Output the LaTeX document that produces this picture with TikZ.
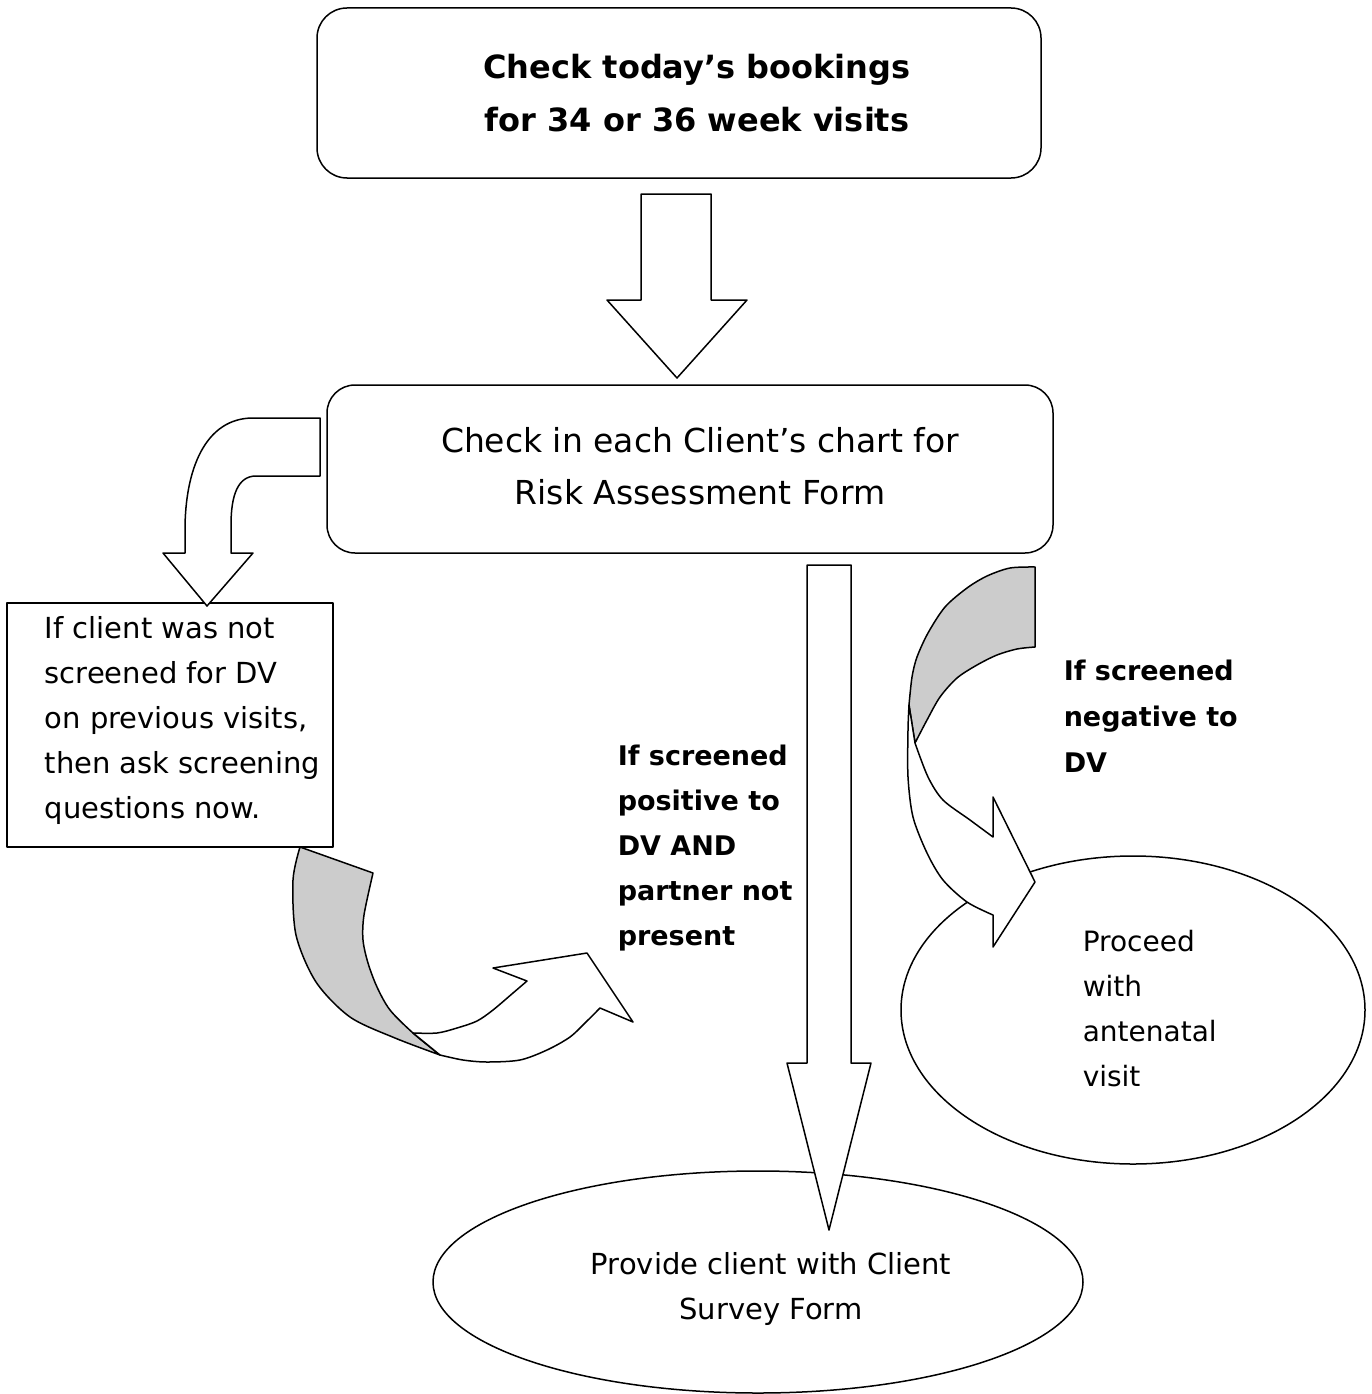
\documentclass[tikz,border=0pt]{standalone}
\usepackage{fontspec}
\setmainfont{DejaVu Sans}
\usetikzlibrary{shapes.geometric}
\begin{document}
\begin{tikzpicture}[x=1pt,y=-1pt,line width=1.5pt,line join=round,
  rbox/.style={draw,inner sep=0pt},
  blockarrow/.style={draw,fill=white},
  ribbon/.style={draw,fill=black!20},
  txt/.style={inner sep=0pt},
  oval/.style={draw,ellipse,inner sep=0pt}]
\useasboundingbox (0,0) rectangle (1372,1394);

% top box
\node[rbox,rounded corners=30pt,minimum width=724pt,minimum height=170pt] (top) at (679,93) {};
\node[txt,align=center,font=\fontsize{32}{53}\selectfont\bfseries] (toptext) at (697,93)
  {Check today’s bookings\\for 34 or 36 week visits};

% down arrow 1
\draw[blockarrow] (641,194) -- (711,194) -- (711,300) -- (747,300) -- (677,378) -- (607,300) -- (641,300) -- cycle;

% second box
\node[rbox,rounded corners=28pt,minimum width=726pt,minimum height=168pt] (check) at (690,469) {};
\node[txt,align=center,font=\fontsize{33}{52}\selectfont] (checktext) at (700,466)
  {Check in each Client’s chart for\\Risk Assessment Form};

% left box
\node[rbox,minimum width=326pt,minimum height=244pt] (leftbox) at (170,725) {};
\node[txt,anchor=west,align=left,font=\fontsize{29}{45}\selectfont] (lefttext) at (44,720)
  {If client was not\\screened for DV\\on previous visits,\\then ask screening\\questions now.};

% left curved arrow
\draw[blockarrow] (320,418) -- (253,418) .. controls (205,418) and (185,470) .. (185,530)
  -- (185,553) -- (163,553) -- (207,606) -- (253,553) -- (231,553) -- (231,525)
  .. controls (231,495) and (238,476) .. (256,476) -- (320,476) -- cycle;

% bottom-left ribbon arrow
\draw[ribbon] plot[smooth,tension=0.5] coordinates {(300,847) (293,880) (296,935) (316,982) (350,1017) (395,1038) (440,1055)}
  -- plot[smooth,tension=0.5] coordinates {(440,1055) (413,1033) (390,1010) (377,987) (368,963) (363,940) (364,915) (373,873)}
  -- cycle;
\draw[blockarrow] plot[smooth,tension=0.5] coordinates {(413,1033) (437,1033) (457,1028) (477,1021) (493,1010) (513,993) (527,981)}
  -- (493,968) -- (587,953) -- (633,1022) -- (600,1008)
  -- plot[smooth,tension=0.5] coordinates {(600,1008) (587,1021) (570,1037) (547,1050) (520,1060) (487,1062) (463,1060) (440,1055)}
  -- cycle;

% middle text
\node[txt,anchor=west,align=left,font=\fontsize{27}{45}\selectfont\bfseries] (postext) at (617,848)
  {If screened\\positive to\\DV AND\\partner not\\present};

% bottom ellipse + middle arrow
\node[oval,minimum width=650pt,minimum height=222pt] (survey) at (758,1282) {};
\node[txt,align=center,font=\fontsize{29}{45}\selectfont] (surveytext) at (771,1289)
  {Provide client with Client\\Survey Form};
\draw[blockarrow] (807,565) -- (851,565) -- (851,1063) -- (871,1063) -- (829,1230) -- (787,1063) -- (807,1063) -- cycle;

% right text
\node[txt,anchor=west,align=left,font=\fontsize{27}{46}\selectfont\bfseries] (negtext) at (1063,716)
  {If screened\\negative to\\DV};

% right ellipse + curved arrow
\node[oval,minimum width=464pt,minimum height=308pt] (proceed) at (1133,1010) {};
\node[txt,anchor=west,align=left,font=\fontsize{28}{45}\selectfont] (proceedtext) at (1082,1009)
  {Proceed\\with\\antenatal\\visit};
\draw[ribbon] (1035,567) -- (1035,647)
  -- plot[smooth,tension=0.5] coordinates {(1035,647) (1017,649) (997,655) (977,665) (957,678) (940,697) (927,720) (915,743)}
  -- (909,705)
  -- plot[smooth,tension=0.5] coordinates {(909,705) (912,677) (917,657) (928,633) (945,607) (967,588) (987,576) (1010,568) (1035,567)}
  -- cycle;
\draw[blockarrow] plot[smooth,tension=0.5] coordinates {(915,743) (928,777) (943,800) (970,820) (993,837)}
  -- (993,797) -- (1035,882) -- (993,947) -- (993,915)
  -- plot[smooth,tension=0.5] coordinates {(993,915) (967,902) (943,880) (927,853) (913,817) (908,777) (908,730) (909,705)}
  -- cycle;
\end{tikzpicture}
\end{document}
